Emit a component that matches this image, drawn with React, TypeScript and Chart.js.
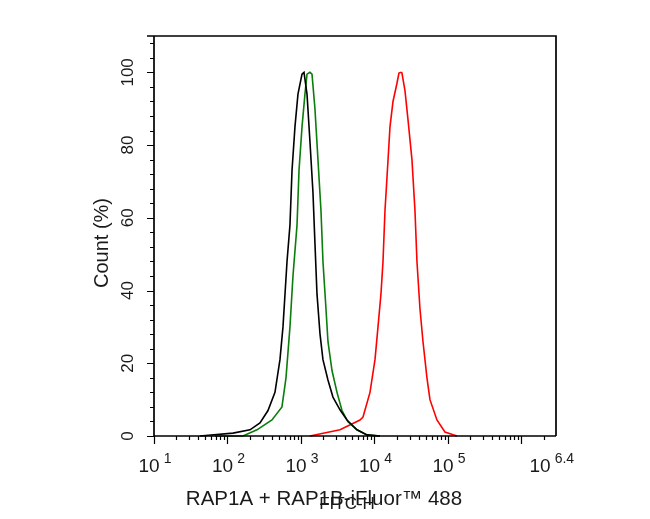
import React, { useEffect, useRef } from 'react';
import { Chart, registerables } from 'chart.js';

Chart.register(...registerables);

// Fluorescence intensity as log10 exponents, and count (% of max)
const blackLogX = [1.626, 2.075, 2.306, 2.442, 2.551, 2.646, 2.714, 2.755, 2.81, 2.85, 2.878, 2.918, 2.959, 3.014, 3.041, 3.082, 3.122, 3.163, 3.19, 3.218, 3.259, 3.299, 3.367, 3.435, 3.531, 3.626, 3.762, 3.898, 4.075];
const blackY = [0, 0.8, 1.7, 3.6, 7, 12, 21, 30, 48, 58, 73, 85, 94, 99.5, 100, 94, 81, 67, 53, 39, 28, 21, 15.4, 10.7, 7.2, 4.4, 1.7, 0.3, 0];

const greenLogX = [1.83, 2.211, 2.401, 2.605, 2.741, 2.796, 2.85, 2.891, 2.946, 2.973, 3.014, 3.054, 3.082, 3.122, 3.15, 3.19, 3.231, 3.272, 3.299, 3.34, 3.367, 3.422, 3.49, 3.558, 3.639, 3.762, 3.898, 4.075];
const greenY = [0, 0, 1.7, 4.4, 8, 16, 30, 44, 58, 73, 85, 94, 99.5, 100, 99.5, 90, 76, 62, 48, 35, 26, 18, 12, 7, 3.9, 1.7, 0.3, 0];

const redLogX = [3.122, 3.531, 3.803, 3.844, 3.939, 4.007, 4.048, 4.088, 4.116, 4.143, 4.17, 4.211, 4.252, 4.306, 4.333, 4.361, 4.374, 4.415, 4.456, 4.51, 4.551, 4.578, 4.619, 4.66, 4.714, 4.755, 4.85, 4.959, 5.122];
const redY = [0, 1.7, 4.4, 5.2, 12, 21, 30, 39, 48, 62, 71, 85, 92, 97, 99.8, 100, 99.8, 95, 87, 76, 62, 48, 35, 26, 16, 10, 4.4, 1.1, 0];

const yTickValues = [0, 20, 40, 60, 80, 100];
const xDecadeExps = ['1', '2', '3', '4', '5'];
const xLastLabelExp = '6.4';
const X_MIN_EXP = 1;
const X_MAX_EXP = 6.47;
const Y_MAX = 110;

const yTitle = 'Count (%)';
const xTitle = 'RAP1A + RAP1B-iFluor™ 488';
const xTitle2 = 'FITC-H';

const FONT = '"Liberation Sans", Arial, Helvetica, sans-serif';

function toPoints(logs: number[], ys: number[]) {
  return logs.map((e, i) => ({ x: Math.pow(10, e), y: ys[i] }));
}

const axesPlugin = {
  id: 'flowAxes',
  afterDraw(chart: any) {
    const { ctx, chartArea: a, scales } = chart;
    const xs = scales.x;
    const ys = scales.y;
    ctx.save();
    ctx.strokeStyle = '#000';
    ctx.lineCap = 'butt';
    // frame
    ctx.lineWidth = 1.7;
    ctx.beginPath();
    ctx.moveTo(a.left - 7, a.top);
    ctx.lineTo(a.right, a.top);
    ctx.lineTo(a.right, a.bottom);
    ctx.moveTo(a.left, a.top);
    ctx.lineTo(a.left, a.bottom);
    ctx.lineTo(a.right, a.bottom);
    ctx.stroke();

    // y ticks
    ctx.lineWidth = 1.2;
    ctx.beginPath();
    for (let v = 0; v < Y_MAX; v += 4) {
      const py = Math.round(ys.getPixelForValue(v)) + 0.5;
      const len = v % 20 === 0 ? 7 : 4;
      ctx.moveTo(a.left - len, py);
      ctx.lineTo(a.left, py);
    }
    ctx.stroke();

    // x ticks
    ctx.beginPath();
    for (let k = 1; k <= 6; k++) {
      for (let m = 1; m <= 9; m++) {
        const v = m * Math.pow(10, k);
        if (v > Math.pow(10, X_MAX_EXP)) continue;
        const px = Math.round(xs.getPixelForValue(v)) + 0.5;
        const len = m === 1 ? 8 : 4;
        ctx.moveTo(px, a.bottom);
        ctx.lineTo(px, a.bottom + len);
      }
    }
    ctx.stroke();

    ctx.fillStyle = '#1a1a1a';
    // y tick labels (rotated)
    ctx.font = `17px ${FONT}`;
    ctx.textAlign = 'center';
    ctx.textBaseline = 'alphabetic';
    yTickValues.forEach((v) => {
      const py = ys.getPixelForValue(v);
      ctx.save();
      ctx.translate(133, py);
      ctx.rotate(-Math.PI / 2);
      ctx.fillText(String(v), 0, 0);
      ctx.restore();
    });

    // x tick labels with superscripts
    const drawPow = (exp: string, value: number) => {
      const px = xs.getPixelForValue(value);
      ctx.font = `19px ${FONT}`;
      const baseW = ctx.measureText('10').width;
      ctx.font = `14px ${FONT}`;
      const supW = ctx.measureText(exp).width;
      const gap = 4;
      const total = baseW + gap + supW;
      const left = px - total / 2 + 1;
      ctx.textAlign = 'left';
      ctx.font = `19px ${FONT}`;
      ctx.fillText('10', left, 472);
      ctx.font = `14px ${FONT}`;
      ctx.fillText(exp, left + baseW + gap, 463);
    };
    xDecadeExps.forEach((e) => drawPow(e, Math.pow(10, Number(e))));
    drawPow(xLastLabelExp, Math.pow(10, Number(xLastLabelExp)));

    // axis titles
    ctx.textAlign = 'center';
    ctx.font = `20px ${FONT}`;
    ctx.save();
    ctx.translate(108, 243);
    ctx.rotate(-Math.PI / 2);
    ctx.fillText(yTitle, 0, 0);
    ctx.restore();

    ctx.font = `20.5px ${FONT}`;
    ctx.fillText(xTitle, 324, 505);
    ctx.font = `17px ${FONT}`;
    ctx.fillText(xTitle2, 347, 509);

    ctx.restore();
  },
};

export default function App() {
  const canvasRef = useRef<HTMLCanvasElement | null>(null);

  useEffect(() => {
    const canvas = canvasRef.current;
    if (!canvas) return;
    const chart = new Chart(canvas, {
      type: 'line',
      data: {
        datasets: [
          {
            label: 'Control',
            data: toPoints(blackLogX, blackY),
            borderColor: '#000000',
            borderWidth: 1.6,
            pointRadius: 0,
            tension: 0,
            fill: false,
            clip: false,
          },
          {
            label: 'Isotype',
            data: toPoints(greenLogX, greenY),
            borderColor: '#0b7d0b',
            borderWidth: 1.6,
            pointRadius: 0,
            tension: 0,
            fill: false,
            clip: false,
          },
          {
            label: 'RAP1A + RAP1B',
            data: toPoints(redLogX, redY),
            borderColor: '#ff0000',
            borderWidth: 1.6,
            pointRadius: 0,
            tension: 0,
            fill: false,
            clip: false,
          },
        ],
      },
      options: {
        animation: false,
        responsive: false,
        layout: { padding: { left: 154, right: 94, top: 36, bottom: 83 } },
        plugins: { legend: { display: false }, tooltip: { enabled: false } },
        scales: {
          x: {
            type: 'logarithmic',
            min: Math.pow(10, X_MIN_EXP),
            max: Math.pow(10, X_MAX_EXP),
            display: false,
          },
          y: { type: 'linear', min: 0, max: Y_MAX, display: false },
        },
      } as any,
      plugins: [axesPlugin],
    });
    return () => chart.destroy();
  }, []);

  return (
    <div style={{ position: 'absolute', left: 0, top: 0, width: 650, height: 519, background: '#fff' }}>
      <canvas ref={canvasRef} width={650} height={519} style={{ display: 'block' }} />
    </div>
  );
}
